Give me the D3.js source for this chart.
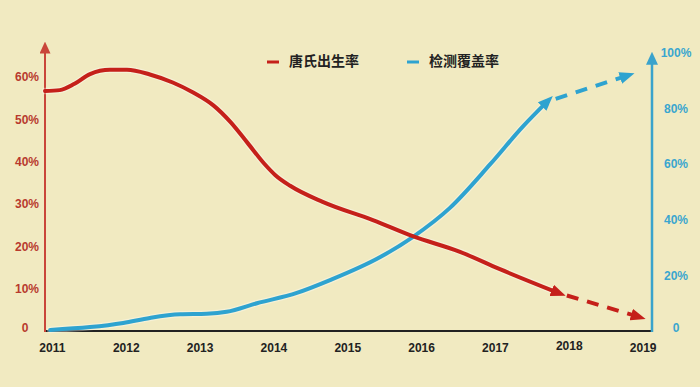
<!DOCTYPE html>
<html>
<head>
<meta charset="utf-8">
<script src="https://cdn.jsdelivr.net/npm/d3@7/dist/d3.min.js"></script>
<style>
  html, body { margin: 0; padding: 0; background: #f1eac1; }
  svg { display: block; }
</style>
</head>
<body>
<svg id="chart" width="700" height="387"></svg>
<script>
// ---- data ----
const yearTicks = [2011, 2012, 2013, 2014, 2015, 2016, 2017, 2018, 2019];
const leftTicks = [0, 0.1, 0.2, 0.3, 0.4, 0.5, 0.6];
const leftTickLabels = ["0", "10%", "20%", "30%", "40%", "50%", "60%"];
const rightTicks = [0, 0.2, 0.4, 0.6, 0.8, 1.0];
const rightTickLabels = ["0", "20%", "40%", "60%", "80%", "100%"];

const seriesNames = ["唐氏出生率", "检测覆盖率"];

// Down syndrome birth rate (left axis)
const rateYears = [2010.90, 2011.10, 2011.30, 2011.51, 2011.78, 2012.01, 2012.32, 2012.63, 2012.90, 2013.18,
                   2013.41, 2013.64, 2013.87, 2014.02, 2014.22, 2014.66, 2015.34, 2015.88, 2016.52, 2017.06, 2017.85];
const rateValues = [0.567, 0.569, 0.584, 0.607, 0.617, 0.617, 0.606, 0.587, 0.564, 0.533,
                    0.494, 0.445, 0.395, 0.368, 0.343, 0.305, 0.262, 0.224, 0.187, 0.146, 0.090];
const rateProjYears = [2017.85, 2018.93];
const rateProjValues = [0.090, 0.034];

// Screening coverage (right axis)
const covYears = [2010.97, 2011.51, 2011.96, 2012.32, 2012.73, 2013.09, 2013.36, 2013.77, 2014.31, 2014.76,
                  2015.44, 2015.88, 2016.38, 2016.93, 2017.37, 2017.70];
const covValues = [0.004, 0.014, 0.029, 0.047, 0.060, 0.062, 0.069, 0.100, 0.137, 0.183,
                   0.266, 0.338, 0.442, 0.600, 0.735, 0.825];
const covProjYears = [2017.70, 2018.78];
const covProjValues = [0.825, 0.918];

// ---- styles ----
const RED = "#c5201a";
const RED_AXIS = "#c9463a";
const RED_TEXT = "#b83a2e";
const BLUE = "#2ea3d0";
const BLUE_AXIS = "#3aa3cc";
const BLUE_TEXT = "#3aa6cf";

const svg = d3.select("#chart");

const x = d3.scaleLinear().domain([2010.9, 2019.12]).range([45, 652]);
const yL = d3.scaleLinear().domain([0, 0.6]).range([331, 77]);
const yR = d3.scaleLinear().domain([0, 1]).range([331, 53]);

// markers
const defs = svg.append("defs");
function marker(id, color, len, wid, refX) {
  defs.append("marker")
    .attr("id", id)
    .attr("markerUnits", "userSpaceOnUse")
    .attr("viewBox", `0 0 ${len} ${wid}`)
    .attr("markerWidth", len).attr("markerHeight", wid)
    .attr("refX", refX).attr("refY", wid / 2)
    .attr("orient", "auto")
    .append("path")
    .attr("d", `M0,0 L${len},${wid / 2} L0,${wid} Z`)
    .attr("fill", color);
}
marker("arRed", RED, 15, 12, 7);
marker("arBlue", BLUE, 15, 12, 7);
marker("axRed", RED_AXIS, 12, 11, 2);
marker("axBlue", BLUE_AXIS, 13, 12, 2);

// axes
const xDom = x.domain();
svg.append("line")
  .attr("x1", x(xDom[0])).attr("x2", x(xDom[1]))
  .attr("y1", yL(0)).attr("y2", yL(0))
  .attr("stroke", "#222").attr("stroke-width", 2);

svg.append("line")
  .attr("x1", x(xDom[0])).attr("x2", x(xDom[0]))
  .attr("y1", yL(0) + 1).attr("y2", yL(0.66))
  .attr("stroke", RED_AXIS).attr("stroke-width", 2)
  .attr("marker-end", "url(#axRed)");

svg.append("line")
  .attr("x1", x(xDom[1])).attr("x2", x(xDom[1]))
  .attr("y1", yR(0) + 1).attr("y2", yR(0.965))
  .attr("stroke", BLUE_AXIS).attr("stroke-width", 2.5)
  .attr("marker-end", "url(#axBlue)");

// tick labels
const fontLatin = "'Liberation Sans', Arial, sans-serif";
svg.append("g").selectAll("text").data(leftTicks).join("text")
  .attr("x", (d, i) => i === 0 ? 25 : 39)
  .attr("y", d => yL(d) - (d === 0 ? 3 : 0))
  .attr("dy", "0.35em")
  .attr("text-anchor", (d, i) => i === 0 ? "middle" : "end")
  .attr("font-family", fontLatin).attr("font-weight", "bold").attr("font-size", 12)
  .attr("fill", RED_TEXT)
  .text((d, i) => leftTickLabels[i]);

svg.append("g").selectAll("text").data(rightTicks).join("text")
  .attr("x", 676)
  .attr("y", d => yR(d) - (d === 0 ? 3 : 0))
  .attr("dy", "0.35em")
  .attr("text-anchor", "middle")
  .attr("font-family", fontLatin).attr("font-weight", "bold").attr("font-size", 12)
  .attr("fill", BLUE_TEXT)
  .text((d, i) => rightTickLabels[i]);

svg.append("g").selectAll("text").data(yearTicks).join("text")
  .attr("x", d => x(d))
  .attr("y", d => d === 2018 ? 346 : 348)
  .attr("dy", "0.35em")
  .attr("text-anchor", "middle")
  .attr("font-family", fontLatin).attr("font-weight", "bold").attr("font-size", 12)
  .attr("fill", "#222")
  .text(d => d);

// lines
const lineL = d3.line().x(d => x(d[0])).y(d => yL(d[1])).curve(d3.curveMonotoneX);
const lineR = d3.line().x(d => x(d[0])).y(d => yR(d[1])).curve(d3.curveMonotoneX);

const rateData = rateYears.map((y, i) => [y, rateValues[i]]);
const rateProj = rateProjYears.map((y, i) => [y, rateProjValues[i]]);
const covData = covYears.map((y, i) => [y, covValues[i]]);
const covProj = covProjYears.map((y, i) => [y, covProjValues[i]]);

// subtle halo
[[covData, lineR], [rateData, lineL]].forEach(([d, l]) => {
  svg.append("path").attr("d", l(d)).attr("fill", "none")
    .attr("stroke", "#ffffff").attr("stroke-opacity", 0.35).attr("stroke-width", 6.5)
    .attr("stroke-linecap", "round");
});

svg.append("path").attr("d", lineR(covData)).attr("fill", "none")
  .attr("stroke", BLUE).attr("stroke-width", 4).attr("stroke-linecap", "round")
  .attr("marker-end", "url(#arBlue)");
svg.append("path").attr("d", lineR(covProj)).attr("fill", "none")
  .attr("stroke", BLUE).attr("stroke-width", 4).attr("stroke-dasharray", "0,9,12,9,12,9,12,9,12,9")
  .attr("marker-end", "url(#arBlue)");

svg.append("path").attr("d", lineL(rateData)).attr("fill", "none")
  .attr("stroke", RED).attr("stroke-width", 4).attr("stroke-linecap", "round")
  .attr("marker-end", "url(#arRed)");
svg.append("path").attr("d", lineL(rateProj)).attr("fill", "none")
  .attr("stroke", RED).attr("stroke-width", 4).attr("stroke-dasharray", "0,9,12,9,12,9,12,9,12,9")
  .attr("marker-end", "url(#arRed)");

// legend
const fontCJK = "'Noto Sans CJK SC', 'Noto Sans', sans-serif";
const legend = [
  { name: seriesNames[0], color: RED, x0: 267 },
  { name: seriesNames[1], color: BLUE, x0: 407 }
];
const lg = svg.append("g").selectAll("g").data(legend).join("g");
lg.append("line")
  .attr("x1", d => d.x0).attr("x2", d => d.x0 + 12)
  .attr("y1", 62).attr("y2", 62)
  .attr("stroke", d => d.color).attr("stroke-width", 3);
lg.append("text")
  .attr("x", d => d.x0 + 22).attr("y", 61)
  .attr("dy", "0.35em")
  .attr("font-family", fontCJK).attr("font-weight", "bold").attr("font-size", 14)
  .attr("fill", "#222")
  .text(d => d.name);
</script>
</body>
</html>
